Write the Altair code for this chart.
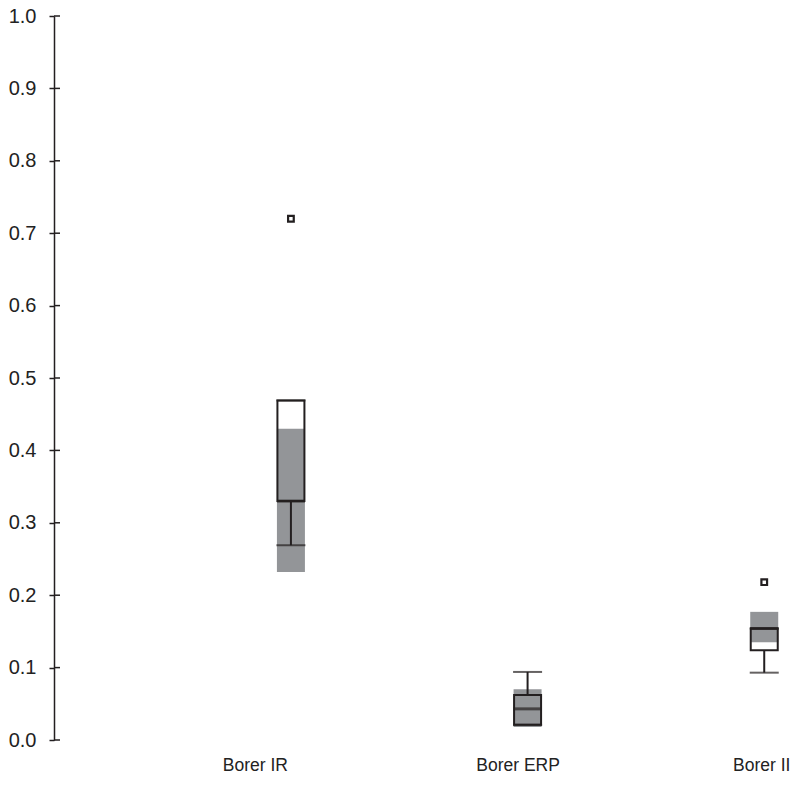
import altair as alt
import pandas as pd

# ---- data ----
categories = ["Borer IR", "Borer ERP", "Borer II"]
q1 = [0.330, 0.021, 0.124]
median = [0.330, 0.043, 0.154]
q3 = [0.469, 0.062, 0.154]
whisker_low = [0.269, 0.021, 0.093]
whisker_high = [0.469, 0.094, 0.154]
band_low = [0.232, 0.018, 0.135]
band_high = [0.430, 0.070, 0.177]
outlier_cat = ["Borer IR", "Borer II"]
outlier_val = [0.720, 0.218]
y_ticks = [0.0, 0.1, 0.2, 0.3, 0.4, 0.5, 0.6, 0.7, 0.8, 0.9, 1.0]

idx = {c: i + 1 for i, c in enumerate(categories)}
df = pd.DataFrame({
    "cat": categories,
    "pos": [idx[c] for c in categories],
    "q1": q1, "median": median, "q3": q3,
    "wlo": whisker_low, "whi": whisker_high,
    "blo": band_low, "bhi": band_high,
})
out = pd.DataFrame({"cat": outlier_cat, "pos": [idx[c] for c in outlier_cat], "v": outlier_val})
ticks = pd.DataFrame({"v": y_ticks})

DARK = "#231f20"
GRAY = "#939598"
BOXW = 28

label_expr = "datum.value == 1 ? 'Borer IR' : datum.value == 2 ? 'Borer ERP' : datum.value == 3 ? 'Borer II' : ''"

xscale = alt.Scale(domain=[0.02, 3.13], nice=False, zero=False)
yscale = alt.Scale(domain=[0, 1], nice=False, zero=True)

label_offset = {
    "condition": [
        {"test": "datum.value == 1", "value": -36},
        {"test": "datum.value == 2", "value": -10},
    ],
    "value": -3,
}

xax = alt.Axis(values=[1, 2, 3], labelExpr=label_expr, domain=False, ticks=False, grid=False,
               labelFontSize=17.5, labelFont="Liberation Sans", labelColor="#222222",
               labelPadding=16, labelOffset=label_offset, title=None)
yax = alt.Axis(values=y_ticks, format=".1f", domain=True, domainColor=DARK, domainWidth=1.5,
               ticks=True, tickSize=5, tickColor=DARK, tickWidth=1.5, grid=False,
               labelFontSize=20, labelFont="Liberation Sans", labelColor="#222222",
               labelPadding=13, title=None)

base = alt.Chart(df)

band = base.mark_bar(color=GRAY, size=BOXW).encode(
    x=alt.X("pos:Q", scale=xscale, axis=xax),
    y=alt.Y("blo:Q", scale=yscale, axis=yax),
    y2="bhi:Q",
)

whisk_lo = base.mark_rule(color=DARK, strokeWidth=2).encode(
    x="pos:Q", y="wlo:Q", y2="q1:Q")
whisk_hi = base.mark_rule(color=DARK, strokeWidth=2).encode(
    x="pos:Q", y="q3:Q", y2="whi:Q")

box = base.mark_bar(fill=None, fillOpacity=0, stroke=DARK, strokeWidth=2, size=BOXW - 1).encode(
    x="pos:Q", y="q1:Q", y2="q3:Q")

cap_lo = base.mark_tick(color=DARK, thickness=2, size=BOXW + 1, orient="horizontal").encode(
    x="pos:Q", y="wlo:Q")
cap_hi = base.mark_tick(color=DARK, thickness=2, size=BOXW + 1, orient="horizontal").encode(
    x="pos:Q", y="whi:Q")
med = base.mark_tick(color=DARK, thickness=3, size=BOXW, orient="horizontal").encode(
    x="pos:Q", y="median:Q")

pts = alt.Chart(out).mark_point(shape="square", size=32, filled=False, stroke=DARK,
                                strokeWidth=2.2, fill="white", opacity=1).encode(
    x="pos:Q", y="v:Q")

inner_ticks = alt.Chart(ticks).mark_rule(color=DARK, strokeWidth=1.5).encode(
    x=alt.value(0), x2=alt.value(6), y="v:Q")

chart = alt.layer(band, whisk_lo, whisk_hi, box, cap_lo, cap_hi, med, pts, inner_ticks).properties(
    width=746, height=724,
    autosize=alt.AutoSizeParams(type="none"),
    padding={"left": 46, "top": 8, "right": 0, "bottom": 34},
    background="white",
).configure_view(stroke=None)

chart.save("out.html", embed_options={"renderer": "svg", "actions": False})
